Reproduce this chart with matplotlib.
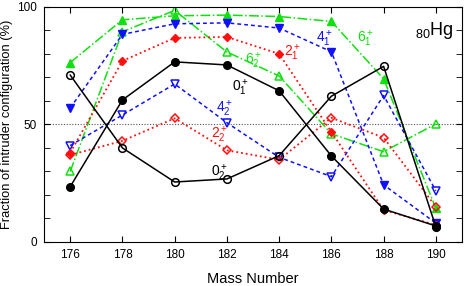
import matplotlib
matplotlib.use("Agg")
import matplotlib.pyplot as plt
from matplotlib.ticker import MultipleLocator

plt.rcParams['font.family'] = ['Liberation Sans', 'DejaVu Sans']
plt.rcParams['mathtext.fontset'] = 'custom'
plt.rcParams['mathtext.rm'] = 'Liberation Sans'
plt.rcParams['mathtext.it'] = 'Liberation Sans:italic'

mass = [176, 178, 180, 182, 184, 186, 188, 190]

# fraction of intruder configuration (%) per state
f_0_1 = [23.5, 60.4, 76.6, 75.3, 64.3, 36.6, 14.0, 6.8]
f_0_2 = [71.0, 40.0, 25.5, 26.8, 36.7, 62.0, 74.7, 6.4]
f_2_1 = [38.0, 77.0, 86.8, 87.2, 80.0, 46.8, 13.6, 7.2]
f_2_2 = [37.0, 43.0, 52.6, 39.0, 35.0, 52.8, 44.4, 15.0]
f_4_1 = [57.0, 88.3, 92.8, 93.2, 91.0, 80.9, 24.3, 8.0]
f_4_2 = [41.0, 54.0, 67.2, 50.7, 36.0, 27.8, 62.3, 21.8]
f_6_1 = [76.3, 94.5, 96.2, 96.5, 95.9, 93.8, 69.4, 14.3]
f_6_2 = [30.0, 89.4, 98.5, 80.8, 70.6, 46.0, 38.4, 50.2]

red = '#ff1010'
blue = '#1010ff'
green = '#10e010'

fig = plt.figure(figsize=(4.69, 2.86), dpi=100)
ax = fig.add_axes([0.094, 0.154, 0.891, 0.822])

ax.axhline(50, color='#555555', ls=(0, (1, 1.5)), lw=0.8, zorder=0)

ms = 5.5
ax.plot(mass, f_6_1, color=green, ls='-.', lw=1.1, marker='^', ms=ms)
ax.plot(mass, f_6_2, color=green, ls='-.', lw=1.1, marker='^', ms=ms, mfc='none', mew=1.1)
ax.plot(mass, f_4_1, color=blue, ls=(0, (2.5, 2)), lw=1.1, marker='v', ms=ms)
ax.plot(mass, f_4_2, color=blue, ls=(0, (2.5, 2)), lw=1.1, marker='v', ms=ms, mfc='none', mew=1.1)
ax.plot(mass, f_2_1, color=red, ls=':', lw=1.3, marker='D', ms=4.5)
ax.plot(mass, f_2_2, color=red, ls=':', lw=1.3, marker='D', ms=4.5, mfc='none', mew=1.1)
ax.plot(mass, f_0_1, color='black', ls='-', lw=1.1, marker='o', ms=ms)
ax.plot(mass, f_0_2, color='black', ls='-', lw=1.1, marker='o', ms=ms, mfc='none', mew=1.1)

fs = 10
ax.text(182.2, 64.0, r'$0_1^+$', color='black', fontsize=fs)
ax.text(181.4, 28.0, r'$0_2^+$', color='black', fontsize=fs)
ax.text(184.2, 78.7, r'$2_1^+$', color=red, fontsize=fs)
ax.text(181.4, 44.0, r'$2_2^+$', color=red, fontsize=fs)
ax.text(185.4, 85.0, r'$4_1^+$', color=blue, fontsize=fs)
ax.text(181.6, 55.0, r'$4_2^+$', color=blue, fontsize=fs)
ax.text(187.0, 85.0, r'$6_1^+$', color=green, fontsize=fs)
ax.text(182.7, 75.5, r'$6_2^+$', color=green, fontsize=fs)
ax.text(189.2, 88.0, r'$_{80}$Hg', color='black', fontsize=13)

ax.set_xlim(175, 191)
ax.set_ylim(0, 100)
ax.set_xticks(mass)
ax.set_yticks([0, 50, 100])
ax.yaxis.set_minor_locator(MultipleLocator(10))
ax.tick_params(which='both', direction='in', top=True, right=True, labelsize=8.5)
ax.tick_params(which='major', length=4, pad=5)
ax.tick_params(which='minor', length=4)
ax.set_xlabel('Mass Number', fontsize=10.5, labelpad=8)
ax.set_ylabel('Fraction of intruder configuration (%)', fontsize=9.3, labelpad=3)

fig.savefig('out.png', dpi=100)
